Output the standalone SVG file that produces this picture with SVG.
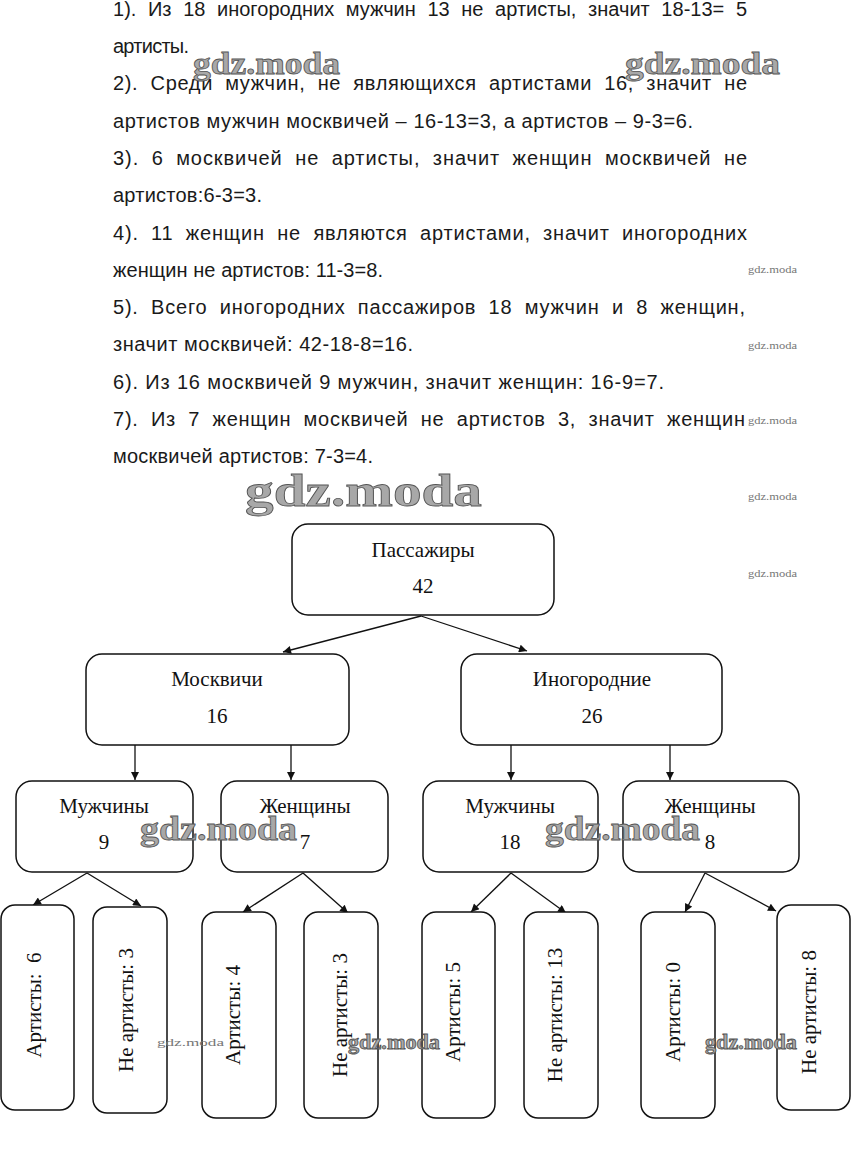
<svg xmlns="http://www.w3.org/2000/svg" width="851" height="1154" viewBox="0 0 851 1154">
<style>
.t{font-family:"Liberation Sans","DejaVu Sans",sans-serif;font-size:20px;fill:#1a1a1a}
.j{word-spacing:6px}
.n{font-family:"Liberation Serif","DejaVu Serif",serif;font-size:21px;fill:#111;text-anchor:middle}
.box{fill:#fff;stroke:#111;stroke-width:1.5}
.c line{stroke:#111;stroke-width:1.3}
.wm{font-family:"Liberation Serif","DejaVu Serif",serif;font-weight:bold;fill:#a8a8a8;stroke:#555;stroke-width:0.8}
.ws{font-family:"Liberation Serif","DejaVu Serif",serif;font-size:11px;fill:#777}
</style>
<defs>
<marker id="a" viewBox="0 0 10 10" refX="10" refY="5" markerWidth="10" markerHeight="8" markerUnits="userSpaceOnUse" orient="auto">
<path d="M0,0 L10,5 L0,10 z" fill="#111"/>
</marker>
</defs>
<rect width="851" height="1154" fill="#fff"/>
<g id="text">
<text class="t j" x="113" y="16" textLength="634" lengthAdjust="spacing">1). Из 18 иногородних мужчин 13 не артисты, значит 18-13= 5</text>
<text class="t" x="113" y="53" textLength="76" lengthAdjust="spacing">артисты.</text>
<text class="t j" x="113" y="90" textLength="634" lengthAdjust="spacing">2). Среди мужчин, не являющихся артистами 16, значит не</text>
<text class="t" x="113" y="128" textLength="580" lengthAdjust="spacing">артистов мужчин москвичей – 16-13=3, а артистов – 9-3=6.</text>
<text class="t j" x="113" y="165" textLength="634" lengthAdjust="spacing">3). 6 москвичей не артисты, значит женщин москвичей не</text>
<text class="t" x="113" y="202" textLength="149" lengthAdjust="spacing">артистов:6-3=3.</text>
<text class="t j" x="113" y="240" textLength="634" lengthAdjust="spacing">4). 11 женщин не являются артистами, значит иногородних</text>
<text class="t" x="113" y="277" textLength="270" lengthAdjust="spacing">женщин не артистов: 11-3=8.</text>
<text class="t j" x="113" y="314" textLength="632" lengthAdjust="spacing">5). Всего иногородних пассажиров 18 мужчин и 8 женщин,</text>
<text class="t" x="113" y="351" textLength="300" lengthAdjust="spacing">значит москвичей: 42-18-8=16.</text>
<text class="t" x="113" y="389" textLength="551" lengthAdjust="spacing">6). Из 16 москвичей 9 мужчин, значит женщин: 16-9=7.</text>
<text class="t j" x="113" y="426" textLength="632" lengthAdjust="spacing">7). Из 7 женщин москвичей не артистов 3, значит женщин</text>
<text class="t" x="113" y="463" textLength="260" lengthAdjust="spacing">москвичей артистов: 7-3=4.</text>
</g>
<g id="connectors" class="c">
<line x1="421" y1="616" x2="283" y2="652" marker-end="url(#a)"/>
<line x1="421" y1="616" x2="527" y2="651" marker-end="url(#a)"/>
<line x1="135" y1="745" x2="135" y2="780" marker-end="url(#a)"/>
<line x1="291" y1="745" x2="291" y2="780" marker-end="url(#a)"/>
<line x1="511" y1="745" x2="511" y2="780" marker-end="url(#a)"/>
<line x1="670" y1="745" x2="670" y2="780" marker-end="url(#a)"/>
<line x1="87" y1="873" x2="33" y2="905" marker-end="url(#a)"/>
<line x1="87" y1="873" x2="141" y2="906" marker-end="url(#a)"/>
<line x1="303" y1="873" x2="243" y2="912" marker-end="url(#a)"/>
<line x1="303" y1="873" x2="348" y2="913" marker-end="url(#a)"/>
<line x1="511" y1="873" x2="471" y2="912" marker-end="url(#a)"/>
<line x1="511" y1="873" x2="566" y2="913" marker-end="url(#a)"/>
<line x1="705" y1="873" x2="685" y2="912" marker-end="url(#a)"/>
<line x1="705" y1="873" x2="776" y2="911" marker-end="url(#a)"/>
</g>
<g id="root"><rect class="box" x="292" y="524" width="262" height="91" rx="16"/>
<text class="n" x="423" y="557">Пассажиры</text><text class="n" x="423" y="593">42</text></g>
<g id="moscow"><rect class="box" x="86" y="654" width="263" height="91" rx="16"/>
<text class="n" x="217" y="686">Москвичи</text><text class="n" x="217" y="723">16</text></g>
<g id="other"><rect class="box" x="461" y="654" width="261" height="91" rx="16"/>
<text class="n" x="592" y="686">Иногородние</text><text class="n" x="592" y="723">26</text></g>
<g id="m-men"><rect class="box" x="16" y="781" width="177" height="91" rx="16"/>
<text class="n" x="104" y="813">Мужчины</text><text class="n" x="104" y="849">9</text></g>
<g id="m-women"><rect class="box" x="221" y="781" width="167" height="91" rx="16"/>
<text class="n" x="305" y="813">Женщины</text><text class="n" x="305" y="849">7</text></g>
<g id="o-men"><rect class="box" x="423" y="781" width="175" height="91" rx="16"/>
<text class="n" x="510" y="813">Мужчины</text><text class="n" x="510" y="849">18</text></g>
<g id="o-women"><rect class="box" x="623" y="781" width="176" height="91" rx="16"/>
<text class="n" x="710" y="813">Женщины</text><text class="n" x="710" y="849">8</text></g>
<g id="l1"><rect class="box" x="1" y="905" width="73" height="205" rx="14"/>
<text class="n" style="white-space:pre" transform="translate(41,1005) rotate(-90)">Артисты:  6</text></g>
<g id="l2"><rect class="box" x="93" y="907" width="74" height="206" rx="14"/>
<text class="n" transform="translate(133,1010) rotate(-90)">Не артисты: 3</text></g>
<g id="l3"><rect class="box" x="202" y="912" width="74" height="206" rx="14"/>
<text class="n" transform="translate(240,1015) rotate(-90)">Артисты: 4</text></g>
<g id="l4"><rect class="box" x="304" y="912" width="74" height="206" rx="14"/>
<text class="n" transform="translate(347,1015) rotate(-90)">Не артисты: 3</text></g>
<g id="l5"><rect class="box" x="422" y="912" width="73" height="206" rx="14"/>
<text class="n" transform="translate(460,1012) rotate(-90)">Артисты: 5</text></g>
<g id="l6"><rect class="box" x="524" y="912" width="74" height="206" rx="14"/>
<text class="n" transform="translate(562,1015) rotate(-90)">Не артисты: 13</text></g>
<g id="l7"><rect class="box" x="641" y="912" width="74" height="206" rx="14"/>
<text class="n" transform="translate(680,1012) rotate(-90)">Артисты: 0</text></g>
<g id="l8"><rect class="box" x="777" y="905" width="73" height="205" rx="14"/>
<text class="n" transform="translate(816,1012) rotate(-90)">Не артисты: 8</text></g>
<g id="watermarks">
<text class="wm" x="193" y="74" font-size="32" textLength="147" lengthAdjust="spacingAndGlyphs">gdz.moda</text>
<text class="wm" x="625" y="74" font-size="32" textLength="155" lengthAdjust="spacingAndGlyphs">gdz.moda</text>
<text class="wm" x="245" y="506" font-size="46" textLength="237" lengthAdjust="spacingAndGlyphs">gdz.moda</text>
<text class="wm" x="140" y="840" font-size="34" textLength="157" lengthAdjust="spacingAndGlyphs">gdz.moda</text>
<text class="wm" x="545" y="840" font-size="34" textLength="155" lengthAdjust="spacingAndGlyphs">gdz.moda</text>
<text class="wm" x="348" y="1049" font-size="20" stroke-width="0.5" textLength="92" lengthAdjust="spacingAndGlyphs">gdz.moda</text>
<text class="wm" x="705" y="1049" font-size="20" stroke-width="0.5" textLength="92" lengthAdjust="spacingAndGlyphs">gdz.moda</text>
<text class="ws" x="157" y="1046" font-size="14" textLength="67" lengthAdjust="spacingAndGlyphs">gdz.moda</text>
<text class="ws" x="748" y="273" textLength="49" lengthAdjust="spacingAndGlyphs">gdz.moda</text>
<text class="ws" x="748" y="349" textLength="49" lengthAdjust="spacingAndGlyphs">gdz.moda</text>
<text class="ws" x="748" y="424" textLength="49" lengthAdjust="spacingAndGlyphs">gdz.moda</text>
<text class="ws" x="748" y="500" textLength="49" lengthAdjust="spacingAndGlyphs">gdz.moda</text>
<text class="ws" x="748" y="577" textLength="49" lengthAdjust="spacingAndGlyphs">gdz.moda</text>
</g>
</svg>
